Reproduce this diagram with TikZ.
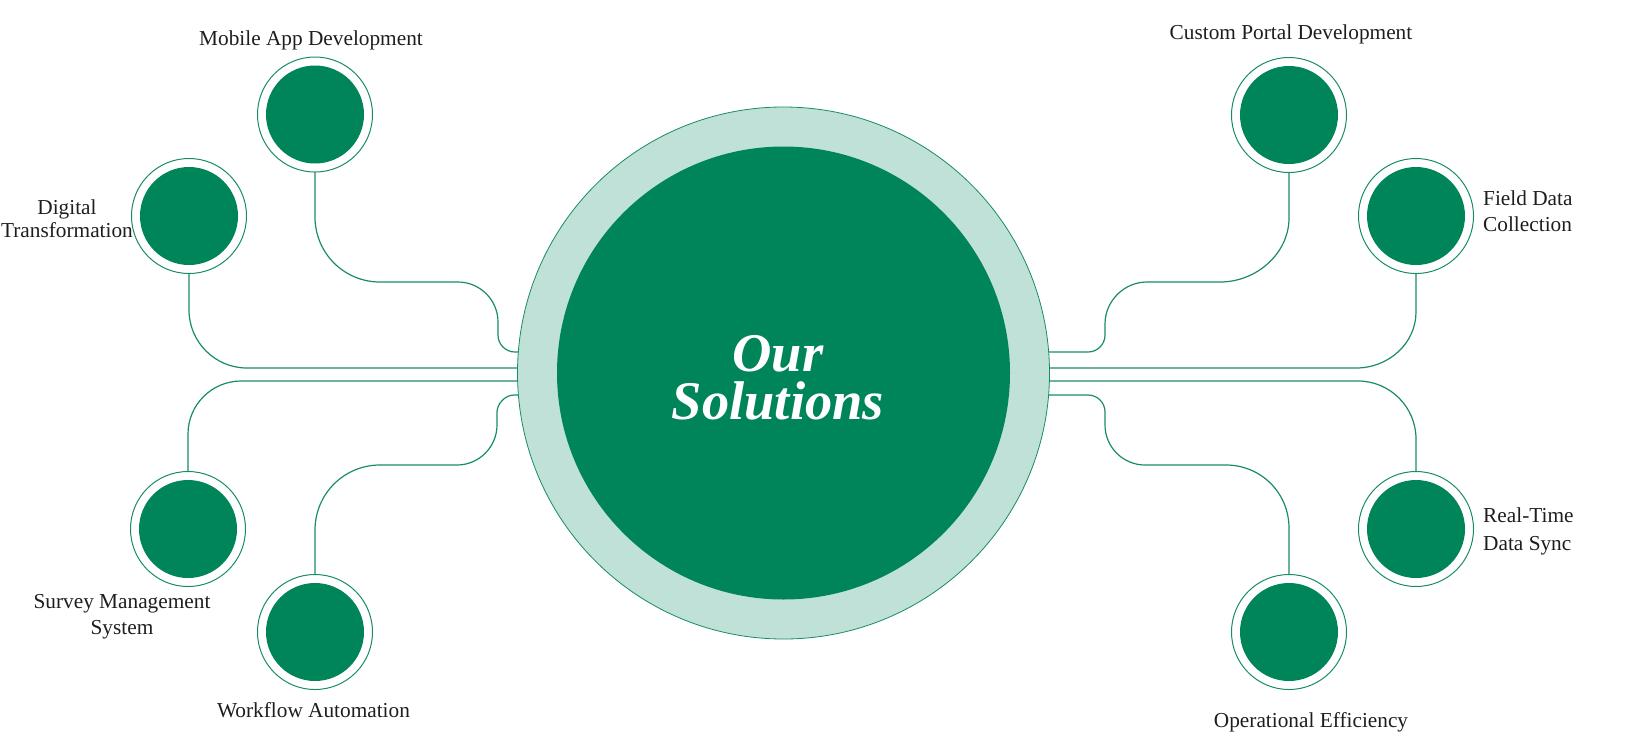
\documentclass[tikz,border=0pt]{standalone}
\usepackage{fontspec}
\setmainfont{Liberation Serif}
\usepackage{graphicx}
\usetikzlibrary{backgrounds,calc}
\definecolor{dkgreen}{RGB}{0,133,90}
\definecolor{ltgreen}{RGB}{191,225,215}
\definecolor{lngreen}{RGB}{24,140,100}
\definecolor{txt}{RGB}{30,30,30}
\begin{document}
\begin{tikzpicture}[x=1pt,y=-1pt,
  ring/.style={circle, draw=lngreen, line width=1pt, minimum size=115pt, inner sep=0pt, outer sep=0pt},
  disc/.style={circle, fill=dkgreen, minimum size=98pt, inner sep=0pt},
  conn/.style={draw=lngreen, line width=1.2pt},
  lbl/.style={font=\fontsize{21.3}{26}\selectfont, text=txt, inner sep=0pt, anchor=base},
  lbll/.style={lbl, anchor=base west},
  title/.style={font=\fontsize{54.5}{47.5}\selectfont\bfseries\itshape, text=white, inner sep=0pt, align=center, anchor=base}]
\useasboundingbox (0,0) rectangle (1636,748);
% central circle
\node[circle, fill=ltgreen, draw=lngreen, line width=0.8pt, minimum size=532pt, inner sep=0pt, outer sep=0pt] (big) at (783.5,373) {};
\node[circle, fill=dkgreen, minimum size=453pt, inner sep=0pt] (core) at (783.5,373) {};
\node[title] (title) at (778,419) {Our\\Solutions};
% small circles
\node[ring] (ma) at (315,114.5) {}; \node[disc] (ma-d) at (ma) {};
\node[ring] (dt) at (189,216) {};   \node[disc] (dt-d) at (dt) {};
\node[ring] (sm) at (188,529) {};   \node[disc] (sm-d) at (sm) {};
\node[ring] (wa) at (315,632) {};   \node[disc] (wa-d) at (wa) {};
\node[ring] (cp) at (1289,115) {};  \node[disc] (cp-d) at (cp) {};
\node[ring] (fd) at (1416,216) {};  \node[disc] (fd-d) at (fd) {};
\node[ring] (rt) at (1416,529) {};  \node[disc] (rt-d) at (rt) {};
\node[ring] (oe) at (1289,632) {};  \node[disc] (oe-d) at (oe) {};
% connectors
\begin{scope}[on background layer]
\draw[conn] (ma.south) -- (315,217) .. controls (315,253) and (344,282) .. (380,282) -- (458,282) .. controls (480,282) and (498,300) .. (498,322) -- (498,335) .. controls (498,344.4) and (505.6,352) .. (515,352) -- ($(big.center)+(175.47:266pt)$);
\draw[conn] (dt.south) -- (189,310) .. controls (189,342) and (215,368) .. (247,368) -- ($(big.center)+(178.92:266pt)$);
\draw[conn] ($(big.center)+(181.72:266pt)$) -- (241,381) .. controls (211.8,381) and (188,404.8) .. (188,434) -- (sm.north);
\draw[conn] ($(big.center)+(184.74:266pt)$) -- (514,395) .. controls (504.6,395) and (497,404.4) .. (497,412) -- (497,425) .. controls (497,447) and (479,465) .. (457,465) -- (380,465) .. controls (344,465) and (315,494) .. (315,530) -- (wa.north);
\draw[conn] (cp.south) -- (1289,218) .. controls (1289,253) and (1257,282) .. (1220,282) -- (1147,282) .. controls (1124,282) and (1105,301) .. (1105,324) -- (1105,335) .. controls (1105,344.4) and (1097.4,352) .. (1088,352) -- ($(big.center)+(4.53:266pt)$);
\draw[conn] (fd.south) -- (1416,312) .. controls (1416,343) and (1389,368) .. (1356,368) -- ($(big.center)+(1.08:266pt)$);
\draw[conn] ($(big.center)+(-1.72:266pt)$) -- (1358,381) .. controls (1390,381) and (1416,407) .. (1416,439) -- (rt.north);
\draw[conn] ($(big.center)+(-4.74:266pt)$) -- (1088,395) .. controls (1097.4,395) and (1105,402.6) .. (1105,412) -- (1105,425) .. controls (1105,447) and (1123,465) .. (1145,465) -- (1226,465) .. controls (1261,465) and (1289,493) .. (1289,528) -- (oe.north);
\end{scope}
% labels
\node[lbl] (ma-l) at (311,45) {Mobile App Development};
\node[lbl] (dt-l1) at (67,214) {Digital};
\node[lbl] (dt-l2) at (67,237) {Transformation};
\node[lbl] (sm-l1) at (122,608) {Survey Management};
\node[lbl] (sm-l2) at (122,634) {System};
\node[lbl] (wa-l) at (313.5,717) {Workflow Automation};
\node[lbl] (cp-l) at (1291,39.5) {Custom Portal Development};
\node[lbll] (fd-l1) at (1483,205) {Field Data};
\node[lbll] (fd-l2) at (1483,231.7) {Collection};
\node[lbll] (rt-l1) at (1483,522.7) {Real-Time};
\node[lbll] (rt-l2) at (1483,550) {Data Sync};
\node[lbl] (oe-l) at (1311,727) {Operational Efficiency};
\end{tikzpicture}
\end{document}
